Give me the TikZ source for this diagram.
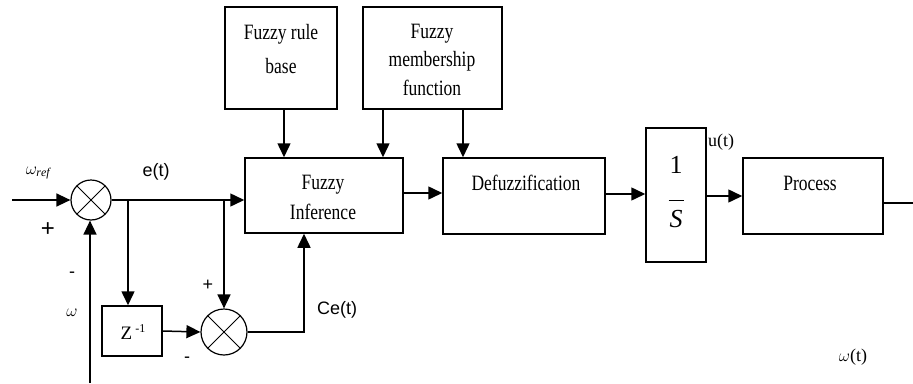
\documentclass[tikz,border=0pt]{standalone}
\usepackage{graphicx}
\usepackage{fontspec}
\setmainfont{Liberation Serif}
\newfontfamily\labfont{Liberation Sans}
\usetikzlibrary{arrows.meta}
\newcommand\tallbox[1]{\scalebox{1}[1.25]{\begin{tabular}{@{}c@{}}#1\end{tabular}}}
\tikzset{
  blk/.style={draw, rectangle, inner sep=0pt, line width=1.5pt},
  btxt/.style={align=center, inner sep=0pt, font=\fontsize{17.5}{24}\selectfont},
  lbl/.style={inner sep=0pt, font=\labfont\fontsize{18}{18}\selectfont},
  sumj/.style={draw, circle, inner sep=0pt, line width=1.2pt,
    path picture={\draw[line width=1pt] (path picture bounding box.south west) -- (path picture bounding box.north east)
      (path picture bounding box.north west) -- (path picture bounding box.south east);}},
  conn/.style={line width=1.5pt, -{Triangle[length=14pt,width=13pt]}},
  wire/.style={line width=1.5pt}
}
\begin{document}
\begin{tikzpicture}[x=1pt,y=-1pt]
\useasboundingbox[fill=white] (0,0) rectangle (913,383);

% blocks
\node[blk, minimum width=112, minimum height=102] (rb) at (281,58) {};
\node[blk, minimum width=139, minimum height=102] (mf) at (432.5,58) {};
\node[blk, minimum width=158, minimum height=75] (inf) at (324,195.5) {};
\node[blk, minimum width=162, minimum height=76] (df) at (524,196) {};
\node[blk, minimum width=60, minimum height=134] (sb) at (676,195) {};
\node[blk, minimum width=140, minimum height=76] (pr) at (813,196) {};
\node[blk, minimum width=60, minimum height=50] (z) at (132,331) {};
\node[sumj, minimum size=40] (s1) at (91,200) {};
\node[sumj, minimum size=46] (s2) at (224,332) {};

% block texts
\node[btxt, font=\fontsize{17.5}{27}\selectfont] (rbT) at (281,50) {\tallbox{Fuzzy rule\\base}};
\node[btxt, font=\fontsize{17.5}{23}\selectfont] (mfT) at (432,61) {\tallbox{Fuzzy\\membership\\function}};
\node[btxt] (infT) at (323,198) {\tallbox{Fuzzy\\Inference}};
\node[btxt] (dfT) at (526,184) {\tallbox{Defuzzification}};
\node[btxt] (prT) at (810,184) {\tallbox{Process}};
\node[btxt, font=\fontsize{26}{26}\selectfont] (sbT) at (676,192)
  {1\\[2pt]\rule{15pt}{1pt}\\[0pt]\textit{S}};
\node[btxt, font=\fontsize{19}{19}\selectfont] (zT) at (133,332) {Z\,\raisebox{7pt}{\fontsize{12}{12}\selectfont -1}};

% labels
\node[inner sep=0pt, font=\fontsize{17}{17}\selectfont] (wref) at (38,173) {$\omega_{\mathit{ref}}$};
\node[lbl, font=\labfont\fontsize{24}{24}\selectfont] (p1) at (48,230) {+};
\node[lbl] (m1) at (72,275) {-};
\node[inner sep=0pt, font=\fontsize{18}{18}\selectfont] (w) at (72,313) {$\omega$};
\node[lbl] (et) at (156,172) {e(t)};
\node[lbl, font=\labfont\fontsize{18}{18}\selectfont] (p2) at (208,285) {+};
\node[lbl] (m2) at (187,360) {-};
\node[lbl] (cet) at (337,310) {Ce(t)};
\node[inner sep=0pt, font=\fontsize{18}{18}\selectfont] (ut) at (721,142) {u(t)};
\node[inner sep=0pt, font=\fontsize{18}{18}\selectfont] (wt) at (853,357) {$\omega$(t)};

% coordinates
\coordinate (in0) at (12,200);
\coordinate (fb) at (90,383);
\coordinate (b1) at (128,200);
\coordinate (b2) at (224,200);
\coordinate (out) at (913,203);

% connectors
\draw[conn] (in0) -- (s1.west);
\draw[conn] (fb) -- (fb |- s1.south);
\draw[conn] (s1.east) -- (s1.east -| inf.west);
\draw[conn] (b1) -- (b1 |- z.north);
\draw[conn] (b2) -- (s2.north);
\draw[conn] (z.east) -- (s2.west);
\draw[conn] (s2.east) -| ([xshift=-20pt]inf.south);
\draw[conn] ([xshift=3pt]rb.south) -- ([xshift=3pt]rb.south |- inf.north);
\draw[conn] ([xshift=-49.5pt]mf.south) -- ([xshift=-49.5pt]mf.south |- inf.north);
\draw[conn] ([xshift=30.5pt]mf.south) -- ([xshift=30.5pt]mf.south |- df.north);
\draw[conn] ([yshift=2.5pt]inf.east) -- ([yshift=2.5pt]inf.east -| df.west);
\draw[conn] ([yshift=2pt]df.east) -- ([yshift=2pt]df.east -| sb.west);
\draw[conn] ([yshift=-1pt]sb.east) -- ([yshift=-1pt]sb.east -| pr.west);
\draw[wire] ([yshift=-7pt]pr.east) -- (out);
\end{tikzpicture}
\end{document}
